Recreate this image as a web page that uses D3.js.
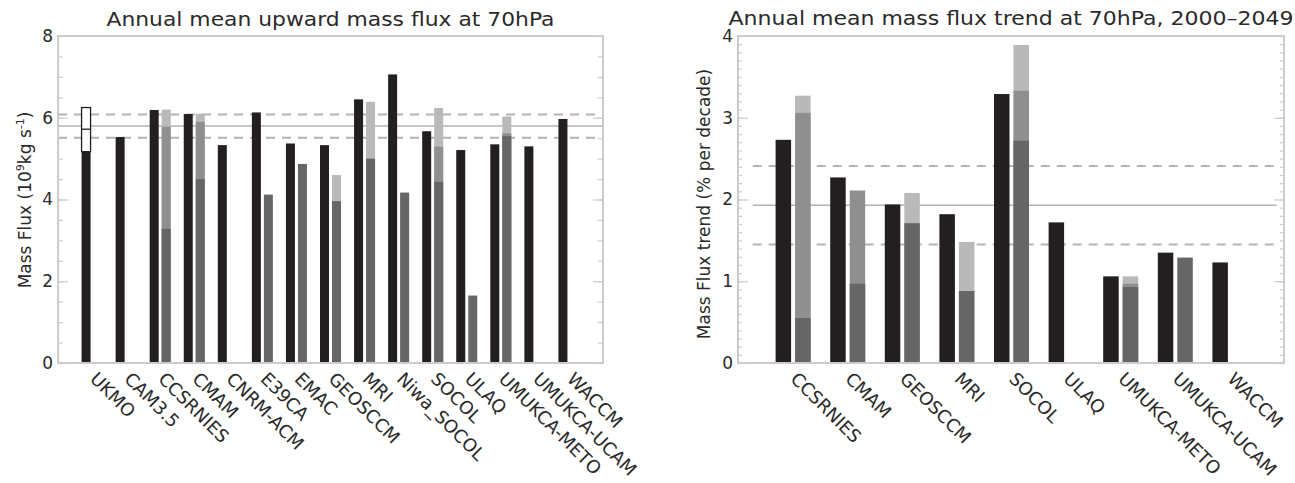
<!DOCTYPE html>
<html>
<head>
<meta charset="utf-8">
<script src="https://cdn.jsdelivr.net/npm/d3@7"></script>
<style>
  body { margin: 0; background: #fff; }
  text { font-family: "DejaVu Sans", sans-serif; fill: #2a2a2a; }
</style>
</head>
<body>
<div id="chart"></div>
<script>
// ---- data ----
var leftCats = ["UKMO", "CAM3.5", "CCSRNIES", "CMAM", "CNRM-ACM", "E39CA", "EMAC", "GEOSCCM",
                "MRI", "Niwa_SOCOL", "SOCOL", "ULAQ", "UMUKCA-METO", "UMUKCA-UCAM", "WACCM"];
var leftBlack = [5.17, 5.53, 6.19, 6.09, 5.33, 6.13, 5.37, 5.33, 6.45, 7.06, 5.67, 5.21, 5.35, 5.30, 5.97];
var leftGreyDark = [null, null, 3.28, 4.50, null, 4.12, 4.87, 3.96, 5.00, 4.17, 4.43, 1.65, 5.55, null, null];
var leftGreyMid = [null, null, 5.78, 5.90, null, null, null, null, null, null, 5.29, null, 5.62, null, null];
var leftGreyLight = [null, null, 6.20, 6.10, null, null, null, 4.60, 6.39, null, 6.24, null, 6.03, null, null];
var ukmoRange = [5.17, 5.72, 6.25];   // low, middle, high
var leftMean = 5.80;
var leftSpread = [5.51, 6.08];
var leftTicks = [0, 2, 4, 6, 8];

var rightCats = ["CCSRNIES", "CMAM", "GEOSCCM", "MRI", "SOCOL", "ULAQ", "UMUKCA-METO", "UMUKCA-UCAM", "WACCM"];
var rightBlack = [2.73, 2.27, 1.94, 1.82, 3.29, 1.72, 1.06, 1.35, 1.23];
var rightGreyDark = [0.55, 0.97, 1.71, 0.88, 2.72, null, 0.93, 1.29, null];
var rightGreyMid = [3.06, 2.11, null, null, 3.33, null, 0.97, null, null];
var rightGreyLight = [3.27, null, 2.08, 1.48, 3.89, null, 1.06, null, null];
var rightMean = 1.93;
var rightSpread = [1.45, 2.41];
var rightTicks = [0, 1, 2, 3, 4];

var colBlack = "#231f20", colDark = "#666666", colMid = "#8f8f8f", colLight = "#b9b9b9";
var frameCol = "#cccccc", refCol = "#b3b3b3";

var svg = d3.select("#chart")
  .append("svg")
    .attr("width", 1295)
    .attr("height", 483);

// draws frame, inward ticks on both sides and tick labels
function drawFrame(x, y, majors, minorStep, majorLen, minorLen) {
  var x0 = x.range()[0], x1 = x.range()[1];
  var top = y.range()[1], bottom = y.range()[0];
  var minors = d3.range(y.domain()[0], y.domain()[1] + 1e-9, minorStep);

  svg.append("g")
    .attr("transform", "translate(" + x0 + ",0)")
    .call(d3.axisLeft(y).tickValues(minors).tickSize(-minorLen).tickSizeOuter(0).tickFormat(""));
  svg.append("g")
    .attr("transform", "translate(" + x1 + ",0)")
    .call(d3.axisRight(y).tickValues(minors).tickSize(-minorLen).tickSizeOuter(0).tickFormat(""));
  svg.append("g")
    .attr("transform", "translate(" + x1 + ",0)")
    .call(d3.axisRight(y).tickValues(majors).tickSize(-majorLen).tickSizeOuter(0).tickFormat(""));
  svg.append("g")
    .attr("class", "ylab")
    .attr("transform", "translate(" + x0 + ",0)")
    .call(d3.axisLeft(y).tickValues(majors).tickSize(-majorLen).tickSizeOuter(0).tickPadding(5).tickFormat(d3.format("d")));

  svg.selectAll(".domain").remove();
  svg.selectAll(".tick line").attr("stroke", frameCol).attr("stroke-width", 1.2);
  svg.selectAll(".ylab text")
    .attr("font-size", 17)
    .attr("font-family", "DejaVu Sans")
    .attr("fill", "#2a2a2a");

  svg.append("rect")
    .attr("x", x0)
    .attr("y", top)
    .attr("width", x1 - x0)
    .attr("height", bottom - top)
    .attr("fill", "none")
    .attr("stroke", frameCol)
    .attr("stroke-width", 2);
}

function refLines(x, y, mean, spread, from, to) {
  svg.append("line")
    .attr("x1", x(from)).attr("x2", x(to))
    .attr("y1", y(mean)).attr("y2", y(mean))
    .attr("stroke", refCol).attr("stroke-width", 1.6);
  spread.forEach(function (v) {
    svg.append("line")
      .attr("x1", x(from)).attr("x2", x(to))
      .attr("y1", y(v)).attr("y2", y(v))
      .attr("stroke", refCol).attr("stroke-width", 2)
      .attr("stroke-dasharray", "9,7");
  });
}

// bars: black one left of the category position, stacked greys right of it
function drawBars(cats, x, y, black, light, mid, dark, off0, off1, gap) {
  var idx = d3.range(cats.length);
  var layers = [[black, colBlack, off0], [light, colLight, gap], [mid, colMid, gap], [dark, colDark, gap]];
  layers.forEach(function (l) {
    svg.append("g")
      .selectAll("rect")
      .data(idx.filter(function (i) { return l[0][i] != null; }))
      .enter()
      .append("rect")
        .attr("x", function (i) { return x(i + 1) + l[2]; })
        .attr("y", function (i) { return y(l[0][i]); })
        .attr("width", off1)
        .attr("height", function (i) { return y(0) - y(l[0][i]); })
        .attr("fill", l[1]);
  });
}

// rotated category names, starting just left of each category position
function catLabels(cats, x, yTop) {
  svg.append("g")
    .selectAll("text")
    .data(cats)
    .enter()
    .append("text")
      .attr("transform", function (d, i) { return "translate(" + (x(i + 1) - 3) + "," + yTop + ") rotate(45)"; })
      .attr("font-size", 18)
      .text(function (d) { return d; });
}

// ---------- left panel ----------
var xL = d3.scaleLinear().domain([0, 16]).range([58, 603]);
var yL = d3.scaleLinear().domain([0, 8]).range([363, 36]);

refLines(xL, yL, leftMean, leftSpread, 0, 16);
drawBars(leftCats, xL, yL, leftBlack, leftGreyLight, leftGreyMid, leftGreyDark, -10.5, 9, 1.5);

// UKMO range box
svg.append("rect")
  .attr("x", xL(1) - 10.5)
  .attr("y", yL(ukmoRange[2]))
  .attr("width", 9)
  .attr("height", yL(ukmoRange[0]) - yL(ukmoRange[2]))
  .attr("fill", "#fff")
  .attr("stroke", colBlack)
  .attr("stroke-width", 1.3);
svg.append("line")
  .attr("x1", xL(1) - 10.5).attr("x2", xL(1) - 1.5)
  .attr("y1", yL(ukmoRange[1])).attr("y2", yL(ukmoRange[1]))
  .attr("stroke", colBlack).attr("stroke-width", 1.3);

drawFrame(xL, yL, leftTicks, 0.5, 10, 5);
catLabels(leftCats, xL, 380);

svg.append("text")
  .attr("x", (58 + 603) / 2).attr("y", 26)
  .attr("text-anchor", "middle")
  .attr("font-size", 20)
  .attr("textLength", 448)
  .attr("lengthAdjust", "spacingAndGlyphs")
  .text("Annual mean upward mass flux at 70hPa");

var yLabL = svg.append("text")
  .attr("transform", "translate(31,200) rotate(-90)")
  .attr("text-anchor", "middle")
  .attr("font-size", 17);
yLabL.append("tspan").text("Mass Flux (10");
yLabL.append("tspan").attr("font-size", 11).attr("dy", -7).text("9");
yLabL.append("tspan").attr("dy", 7).text("kg s");
yLabL.append("tspan").attr("font-size", 11).attr("dy", -7).text("-1");
yLabL.append("tspan").attr("dy", 7).text(")");

// ---------- right panel ----------
var xR = d3.scaleLinear().domain([0, 10]).range([738, 1284]);
var yR = d3.scaleLinear().domain([0, 4]).range([363, 36]);

refLines(xR, yR, rightMean, rightSpread, 0.27, 9.87);
drawBars(rightCats, xR, yR, rightBlack, rightGreyLight, rightGreyMid, rightGreyDark, -17, 15.5, 2.5);

drawFrame(xR, yR, rightTicks, 0.1, 10, 4);
catLabels(rightCats, xR, 380);

svg.append("text")
  .attr("x", (738 + 1284) / 2).attr("y", 25)
  .attr("text-anchor", "middle")
  .attr("font-size", 20)
  .attr("textLength", 565)
  .attr("lengthAdjust", "spacingAndGlyphs")
  .text("Annual mean mass flux trend at 70hPa, 2000\u20132049");

svg.append("text")
  .attr("transform", "translate(710,204) rotate(-90)")
  .attr("text-anchor", "middle")
  .attr("font-size", 17)
  .text("Mass Flux trend (% per decade)");
</script>
</body>
</html>
